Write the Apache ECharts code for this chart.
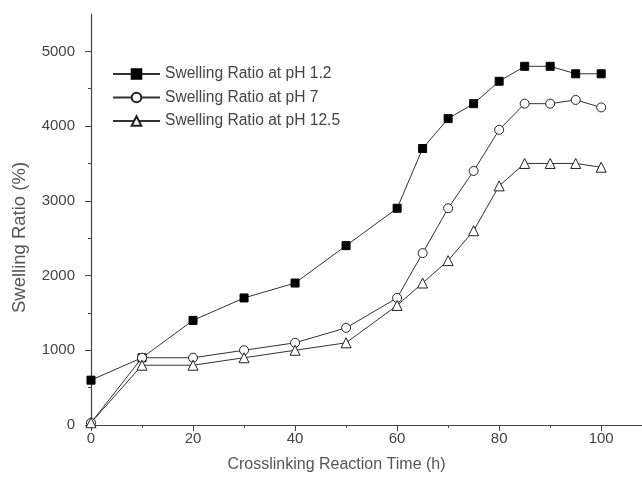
<!DOCTYPE html>
<html><head><meta charset="utf-8">
<script src="https://cdn.jsdelivr.net/npm/echarts@6/dist/echarts.min.js"></script>
<style>html,body{margin:0;padding:0;background:#fff}#c{width:642px;height:489px}</style>
</head><body><div id="c"></div>
<script>
const times = [0, 10, 20, 30, 40, 50, 60, 65, 70, 75, 80, 85, 90, 95, 100];
const ph12 = [600, 900, 1400, 1700, 1900, 2400, 2900, 3700, 4100, 4300, 4600, 4800, 4800, 4700, 4700];
const ph7 = [30, 900, 900, 1000, 1100, 1300, 1700, 2300, 2900, 3400, 3950, 4300, 4300, 4350, 4250];
const ph125 = [30, 800, 800, 900, 1000, 1100, 1600, 1900, 2200, 2600, 3200, 3500, 3500, 3500, 3450];
const seriesNames = ['Swelling Ratio at pH 1.2', 'Swelling Ratio at pH 7', 'Swelling Ratio at pH 12.5'];
const xMajor = [0, 20, 40, 60, 80, 100];
const xMinor = [10, 30, 50, 70, 90];
const yMajor = [0, 1000, 2000, 3000, 4000, 5000];
const yMinor = [500, 1500, 2500, 3500, 4500];

const axisColor = '#444';
const textColor = '#444';
const font = 'Liberation Sans, Arial, sans-serif';
const pairs = v => times.map((t, i) => [t, v[i]]);

const chart = echarts.init(document.getElementById('c'));
chart.setOption({
  animation: false,
  backgroundColor: '#fff',
  textStyle: { fontFamily: font },
  grid: { left: 91, right: 0, top: 14, bottom: 64 },
  legend: {
    orient: 'vertical', left: 112, top: 66, padding: 0,
    itemWidth: 47, itemHeight: 12, itemGap: 7.5,
    textStyle: { fontSize: 15.6, color: textColor, fontFamily: font },
    data: seriesNames
  },
  xAxis: [{
    type: 'value', min: 0, max: 108,
    name: 'Crosslinking Reaction Time (h)', nameLocation: 'middle', nameGap: 32,
    nameTextStyle: { fontSize: 16, color: '#555', padding: [0, 60, 0, 0] },
    axisLine: { lineStyle: { color: axisColor, width: 1.2 } },
    axisTick: { customValues: xMajor, length: 6, lineStyle: { color: axisColor } },
    axisLabel: { customValues: xMajor, fontSize: 15, color: textColor, margin: 6, formatter: v => String(v) },
    splitLine: { show: false }
  }, {
    type: 'value', min: 0, max: 108, position: 'bottom',
    axisLine: { show: false },
    axisTick: { customValues: xMinor, length: 3, lineStyle: { color: axisColor } },
    axisLabel: { show: false }, splitLine: { show: false }
  }],
  yAxis: [{
    type: 'value', min: 0, max: 5500,
    name: 'Swelling Ratio (%)', nameLocation: 'middle', nameGap: 62,
    nameTextStyle: { fontSize: 18.5, color: '#555', padding: [0, 36, 0, 0] },
    axisLine: { show: true, lineStyle: { color: axisColor, width: 1.2 } },
    axisTick: { show: true, customValues: yMajor, length: 6, lineStyle: { color: axisColor } },
    axisLabel: { customValues: yMajor, fontSize: 15, color: textColor, margin: 16, formatter: v => String(v) },
    splitLine: { show: false }
  }, {
    type: 'value', min: 0, max: 5500, position: 'left',
    axisLine: { show: false },
    axisTick: { show: true, customValues: yMinor, length: 3, lineStyle: { color: axisColor } },
    axisLabel: { show: false }, splitLine: { show: false }
  }],
  series: [{
    name: seriesNames[0], type: 'line', data: pairs(ph12),
    symbol: 'rect', symbolSize: 8,
    lineStyle: { color: '#333', width: 1 },
    itemStyle: { color: '#000', borderColor: '#000', borderWidth: 1 }
  }, {
    name: seriesNames[1], type: 'line', data: pairs(ph7),
    symbol: 'circle', symbolSize: 9,
    lineStyle: { color: '#333', width: 1 },
    itemStyle: { color: '#fff', borderColor: '#222', borderWidth: 1 }
  }, {
    name: seriesNames[2], type: 'line', data: pairs(ph125),
    symbol: 'triangle', symbolSize: 10,
    lineStyle: { color: '#333', width: 1 },
    itemStyle: { color: '#fff', borderColor: '#222', borderWidth: 1 }
  }]
});
</script></body></html>
